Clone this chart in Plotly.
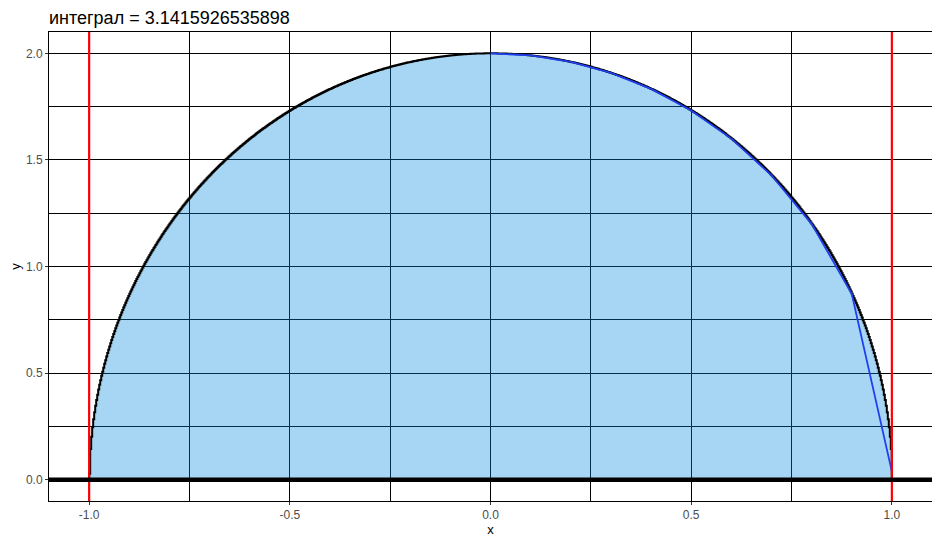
import numpy as np
import plotly.graph_objects as go

title_text = "интеграл = 3.1415926535898"

# limits of integration
limits = [-1.0, 1.0]

# function being integrated: y = 2*sqrt(1 - x^2)
def f(x):
    return 2 * np.sqrt(np.clip(1 - np.asarray(x) ** 2, 0, None))

curve_x = np.concatenate([[-1.0], np.linspace(-0.9999, 0.9999, 801), [1.0]])
curve_y = f(curve_x)

# approximating polyline (blue)
approx_x = [0.0, 0.1, 0.2, 0.3, 0.4, 0.5, 0.6, 0.7, 0.8, 0.9, 0.9998]
approx_y = [2.0, 1.99, 1.96, 1.908, 1.833, 1.732, 1.6, 1.428, 1.2, 0.872, 0.04]

x_ticks = [-1.0, -0.5, 0.0, 0.5, 1.0]
x_labels = ["-1.0", "-0.5", "0.0", "0.5", "1.0"]
y_ticks = [0.0, 0.5, 1.0, 1.5, 2.0]
y_labels = ["0.0", "0.5", "1.0", "1.5", "2.0"]

FONT = "Liberation Sans, Arial, sans-serif"
W, H = 932, 538  # page body has an 8px margin

fig = go.Figure()

fig.add_trace(go.Scatter(
    x=curve_x, y=curve_y, mode="lines", fill="tozeroy",
    fillcolor="rgba(0,137,222,0.35)",
    line=dict(color="black", width=2.0, shape="hv"),
    hoverinfo="skip", showlegend=False,
))
fig.add_trace(go.Scatter(
    x=approx_x, y=approx_y, mode="lines",
    line=dict(color="#1f3ff0", width=1.8),
    showlegend=False,
))

for lx in limits:
    fig.add_vline(x=lx, line=dict(color="#ff0000", width=2.2), layer="above")
fig.add_hline(y=0, line=dict(color="black", width=4.5), layer="above")

axis_common = dict(
    showline=True, linecolor="black", linewidth=1, mirror=True,
    showgrid=True, gridcolor="black", gridwidth=1,
    zeroline=False, automargin=False,
    ticks="outside", ticklen=3, tickcolor="#333333", tickwidth=1,
    tickfont=dict(family=FONT, size=12, color="#4d4d4d"),
    minor=dict(showgrid=True, gridcolor="black", gridwidth=0.6, ticks=""),
)

fig.update_xaxes(
    range=[-1.1, 1.1], tickvals=x_ticks, ticktext=x_labels,
    title=dict(text="x", standoff=2, font=dict(family=FONT, size=13, color="black")),
    **axis_common,
)
fig.update_yaxes(
    range=[-0.1, 2.1], tickvals=y_ticks, ticktext=y_labels,
    title=dict(text="y", standoff=4, font=dict(family=FONT, size=13, color="black")),
    **axis_common,
)
fig.update_xaxes(minor=dict(tickvals=[-0.75, -0.25, 0.25, 0.75]))
fig.update_yaxes(minor=dict(tickvals=[0.25, 0.75, 1.25, 1.75]))

fig.update_layout(
    width=W, height=H,
    margin=dict(l=41, r=8, t=24, b=45, autoexpand=False),
    paper_bgcolor="white", plot_bgcolor="white",
    title=dict(text=title_text, x=41 / W, xref="container", xanchor="left",
               y=1 - 10 / H, yref="container", yanchor="middle", automargin=False,
               font=dict(family=FONT, size=18, color="black")),
    showlegend=False,
)

fig.write_html("out.html")
